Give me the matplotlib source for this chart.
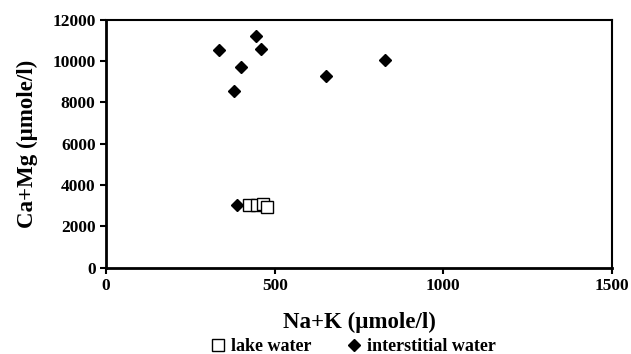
import matplotlib
matplotlib.use("Agg")
import matplotlib.pyplot as plt

# lake water samples
lake_nak = [424, 448, 466, 476]
lake_camg = [3050, 3040, 3070, 2960]

# interstitial water samples
inter_nak = [336, 444, 460, 399, 380, 652, 826, 388]
inter_camg = [10550, 11200, 10600, 9700, 8560, 9270, 10050, 3020]

xticks = [0, 500, 1000, 1500]
yticks = [0, 2000, 4000, 6000, 8000, 10000, 12000]

plt.rcParams['font.family'] = ['Liberation Serif', 'DejaVu Serif']
plt.rcParams['font.weight'] = 'bold'

fig = plt.figure(figsize=(6.31, 3.54), dpi=100)
ax = fig.add_axes([0.168, 0.244, 0.802, 0.70])

ax.plot(lake_nak, lake_camg, linestyle='None', marker='s', markersize=8,
        markerfacecolor='white', markeredgecolor='black', markeredgewidth=1.0,
        label='lake water')
ax.plot(inter_nak, inter_camg, linestyle='None', marker='D', markersize=6.5,
        color='black', label='interstitial water')

ax.set_xlim(0, 1500)
ax.set_ylim(0, 12000)
ax.set_xticks(xticks)
ax.set_yticks(yticks)
ax.tick_params(direction='out', length=4, width=1.5, labelsize=12.5)
for lbl in ax.get_xticklabels() + ax.get_yticklabels():
    lbl.set_fontweight('bold')

for side in ['left', 'bottom']:
    ax.spines[side].set_linewidth(2)
for side in ['top', 'right']:
    ax.spines[side].set_linewidth(1.5)

ax.set_xlabel('Na+K (\u00b5mole/l)', fontsize=16.5, fontweight='bold', labelpad=13)
ax.set_ylabel('Ca+Mg (\u00b5mole/l)', fontsize=16.5, fontweight='bold', labelpad=10)

fig.legend(loc='lower center', bbox_to_anchor=(0.56, -0.05), ncol=2,
           frameon=False, prop={'size': 13, 'weight': 'bold'},
           handlelength=0.8, handletextpad=0.3, columnspacing=2.0)

plt.savefig('out.png', dpi=100)
